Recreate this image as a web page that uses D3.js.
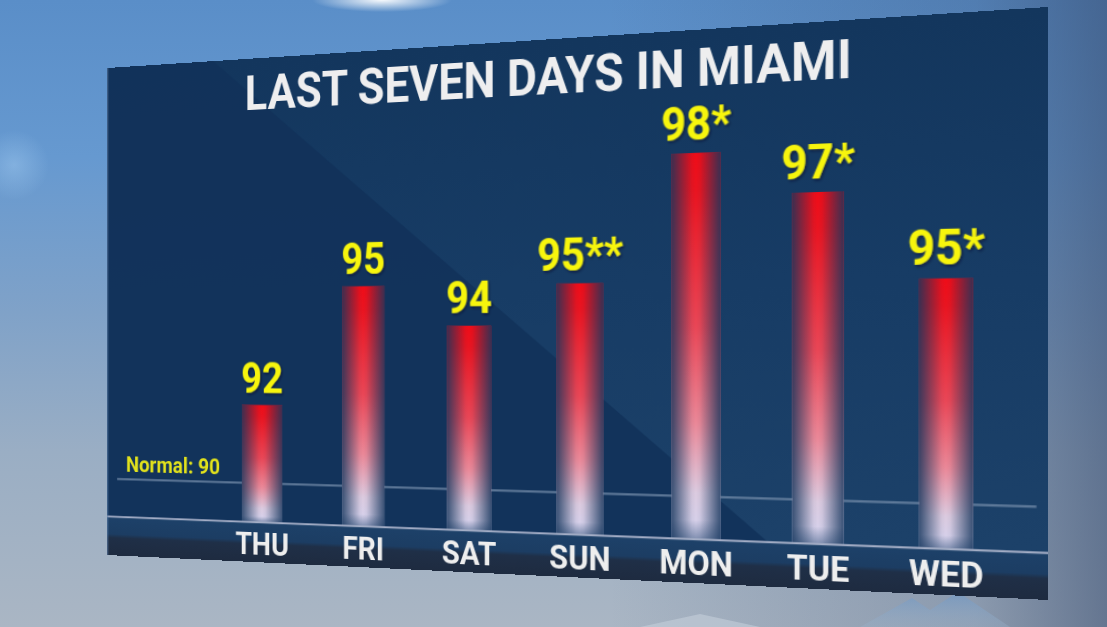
<!DOCTYPE html>
<html>
<head>
<meta charset="utf-8">
<script src="https://cdn.jsdelivr.net/npm/d3@7"></script>
<style>
  html, body { margin: 0; padding: 0; }
  body {
    width: 1107px; height: 627px; overflow: hidden; position: relative;
    background:
      radial-gradient(ellipse 70px 12px at 382px 0px, rgba(255,255,255,0.95), rgba(255,255,255,0) 100%),
      radial-gradient(circle at 14px 165px, rgba(170,210,245,0.4), rgba(170,210,245,0) 35px),
      linear-gradient(to left, rgba(55,75,110,0.6) 0%, rgba(55,75,110,0.25) 12%, rgba(55,75,110,0) 45%),
      linear-gradient(to bottom, #5a8ec8 0%, #6699d0 25%, #80a2c8 50%, #9aaec4 72%, #aab6c4 100%);
  }
  #bgsvg { position: absolute; left: 0; top: 0; }
  #panel { position: absolute; left: 0; top: 0; transform-origin: 0 0; }
</style>
</head>
<body>
<svg id="bgsvg" width="1107" height="627"></svg>
<div id="panel"></div>
<script>
// ---- data ----
const days = ["THU", "FRI", "SAT", "SUN", "MON", "TUE", "WED"];
const highs = [92, 95, 94, 95, 98, 97, 95];
const marks = ["", "", "", "**", "*", "*", "*"];
const normalHigh = 90;
const titleText = "LAST SEVEN DAYS IN MIAMI";
const normalLabel = "Normal: 90";

// ---- layout ----
const W = 940, H = 540;
const imgCorners = [[107, 68], [1048, 7], [1048, 600], [107, 555]];
const flatCorners = [[0, 0], [W, 0], [W, H], [0, H]];

function solve(A, b) {
  const n = b.length;
  const M = A.map((r, i) => r.concat([b[i]]));
  for (let c = 0; c < n; c++) {
    let p = c;
    for (let r = c + 1; r < n; r++) if (Math.abs(M[r][c]) > Math.abs(M[p][c])) p = r;
    [M[c], M[p]] = [M[p], M[c]];
    for (let r = 0; r < n; r++) {
      if (r === c) continue;
      const f = M[r][c] / M[c][c];
      for (let k = c; k <= n; k++) M[r][k] -= f * M[c][k];
    }
  }
  return M.map((r, i) => r[n] / r[i]);
}
function homography(src, dst) {
  const A = [], b = [];
  for (let i = 0; i < 4; i++) {
    const [x, y] = src[i], [u, v] = dst[i];
    A.push([x, y, 1, 0, 0, 0, -u * x, -u * y]); b.push(u);
    A.push([0, 0, 0, x, y, 1, -v * x, -v * y]); b.push(v);
  }
  return solve(A, b);
}
const h = homography(flatCorners, imgCorners);
const m3d = [h[0], h[3], 0, h[6], h[1], h[4], 0, h[7], 0, 0, 1, 0, h[2], h[5], 0, 1];

// ---- background decoration ----
const bg = d3.select("#bgsvg");
const bgDefs = bg.append("defs");
const mg = bgDefs.append("linearGradient").attr("id", "mtn").attr("x1", 0).attr("y1", 0).attr("x2", 0).attr("y2", 1);
mg.append("stop").attr("offset", 0).attr("stop-color", "#6f97c4").attr("stop-opacity", 0.7);
mg.append("stop").attr("offset", 1).attr("stop-color", "#9db4cc").attr("stop-opacity", 0.3);
bg.append("path").attr("d", "M860,627 L912,598 L930,610 L958,592 L1010,627 Z").attr("fill", "url(#mtn)");
bg.append("path").attr("d", "M640,627 L700,614 L760,627 Z").attr("fill", "#c4cfdb").attr("opacity", 0.6);

// ---- panel ----
const panel = d3.select("#panel")
  .style("width", W + "px").style("height", H + "px")
  .style("transform", `matrix3d(${m3d.join(",")})`);

const svg = panel.append("svg").attr("width", W).attr("height", H).style("display", "block");
const defs = svg.append("defs");

const x = d3.scaleBand().domain(days).range([0.1334 * W, 0.9695 * W]).paddingInner(0.59).paddingOuter(0.3);
const y = d3.scaleLinear().domain([89, 100]).range([0.9208 * H, 0.0672 * H]);
const baseY = y(89);

// gradients
const gV = defs.append("linearGradient").attr("id", "barV").attr("x1", 0).attr("y1", 0).attr("x2", 0).attr("y2", 1);
[[0, "#f00c18"], [0.1, "#ea1420"], [0.45, "#ea4656"], [0.7, "#eb8898"], [0.88, "#dccbe0"], [1, "#d4d4f0"]]
  .forEach(([o, c]) => gV.append("stop").attr("offset", o).attr("stop-color", c));
const gH = defs.append("linearGradient").attr("id", "barH").attr("x1", 0).attr("y1", 0).attr("x2", 1).attr("y2", 0);
[[0, 0.82], [0.2, 0.45], [0.42, 0.05], [0.5, 0], [0.58, 0.05], [0.8, 0.45], [1, 0.82]]
  .forEach(([o, a]) => gH.append("stop").attr("offset", o).attr("stop-color", "#15355c").attr("stop-opacity", a));
const gF = defs.append("linearGradient").attr("id", "barF").attr("x1", 0).attr("y1", 0).attr("x2", 0).attr("y2", 1);
[[0, 0], [0.95, 0], [1, 0.45]].forEach(([o, a]) => gF.append("stop").attr("offset", o).attr("stop-color", "#1a3a62").attr("stop-opacity", a));

const gLight = defs.append("linearGradient").attr("id", "lightArea").attr("x1", 0).attr("y1", 0).attr("x2", 0).attr("y2", 1);
gLight.append("stop").attr("offset", 0).attr("stop-color", "#13365d");
gLight.append("stop").attr("offset", 0.5).attr("stop-color", "#173c65");
gLight.append("stop").attr("offset", 1).attr("stop-color", "#1c4169");

const gStrip = defs.append("linearGradient").attr("id", "strip").attr("x1", 0).attr("y1", 0).attr("x2", 0).attr("y2", 1);
[[0, "#1d4169"], [0.45, "#1c3d63"], [0.55, "#1f2f47"], [1, "#1e2b40"]]
  .forEach(([o, c]) => gStrip.append("stop").attr("offset", o).attr("stop-color", c));

const shadow = defs.append("filter").attr("id", "shadow").attr("x", "-20%").attr("y", "-20%").attr("width", "140%").attr("height", "140%");
shadow.append("feDropShadow").attr("dx", 1.5).attr("dy", 1.5).attr("stdDeviation", 1.5)
  .attr("flood-color", "#08162a").attr("flood-opacity", 0.7);

// panel background
svg.append("rect").attr("x", 0).attr("y", 0).attr("width", W).attr("height", baseY).attr("fill", "url(#lightArea)");
svg.append("path")
  .attr("d", `M0,0 L${0.134 * W},0 L${0.742 * W},${baseY} L0,${baseY} Z`)
  .attr("fill", "#12325a").attr("opacity", 0.9);
// label strip
svg.append("rect").attr("x", 0).attr("y", baseY).attr("width", W).attr("height", H - baseY).attr("fill", "url(#strip)");

// normal line
svg.append("line")
  .attr("x1", 0.013 * W).attr("x2", 0.99 * W)
  .attr("y1", y(normalHigh)).attr("y2", y(normalHigh))
  .attr("stroke", "#6f87a5").attr("stroke-width", 2.2).attr("stroke-opacity", 0.8);

// bars
const bars = svg.append("g");
bars.selectAll("rect.bar").data(highs).join("rect").attr("class", "bar")
  .attr("x", (d, i) => x(days[i])).attr("width", x.bandwidth())
  .attr("y", d => y(d)).attr("height", d => baseY - y(d))
  .attr("fill", "url(#barV)");
bars.selectAll("rect.shade").data(highs).join("rect").attr("class", "shade")
  .attr("x", (d, i) => x(days[i])).attr("width", x.bandwidth())
  .attr("y", d => y(d)).attr("height", d => baseY - y(d))
  .attr("fill", "url(#barH)");
bars.selectAll("rect.fade").data(highs).join("rect").attr("class", "fade")
  .attr("x", (d, i) => x(days[i])).attr("width", x.bandwidth())
  .attr("y", d => y(d)).attr("height", d => baseY - y(d))
  .attr("fill", "url(#barF)");

// separator line
svg.append("line").attr("x1", 0).attr("x2", W).attr("y1", baseY).attr("y2", baseY)
  .attr("stroke", "#a4aec6").attr("stroke-width", 1.8);

// left edge highlight
svg.append("line").attr("x1", 0.75).attr("x2", 0.75).attr("y1", 0).attr("y2", H)
  .attr("stroke", "#5f7ea6").attr("stroke-width", 1.5).attr("stroke-opacity", 0.6);

const font = "Roboto, 'DejaVu Sans', sans-serif";

// title
svg.append("text")
  .attr("transform", `translate(${0.4977 * W},${0.1014 * H}) scale(0.92,1)`)
  .attr("text-anchor", "middle")
  .attr("font-family", font).attr("font-weight", 700).attr("font-size", 51)
  .attr("fill", "#eeeeef")
  .text(titleText);

// value labels
svg.append("g").selectAll("text").data(highs).join("text")
  .attr("transform", (d, i) => `translate(${x(days[i]) + x.bandwidth() / 2},${y(d) - 0.024 * H}) scale(0.88,1)`)
  .attr("text-anchor", "middle")
  .attr("font-family", font).attr("font-weight", 700).attr("font-size", 47)
  .attr("fill", "#f7f50c")
  .attr("filter", "url(#shadow)")
  .text((d, i) => d + marks[i]);

// day labels
svg.append("g").selectAll("text").data(days).join("text")
  .attr("transform", d => `translate(${x(d) + x.bandwidth() / 2},${0.9855 * H}) scale(0.9,1)`)
  .attr("text-anchor", "middle")
  .attr("font-family", font).attr("font-weight", 700).attr("font-size", 34)
  .attr("fill", "#eeeeee")
  .text(d => d);

// normal label
svg.append("text")
  .attr("transform", `translate(${0.0245 * W},${y(normalHigh) - 0.016 * H}) scale(0.95,1)`)
  .attr("font-family", font).attr("font-weight", 700).attr("font-size", 23.5)
  .attr("fill", "#e2e21c")
  .text(normalLabel);
</script>
</body>
</html>
